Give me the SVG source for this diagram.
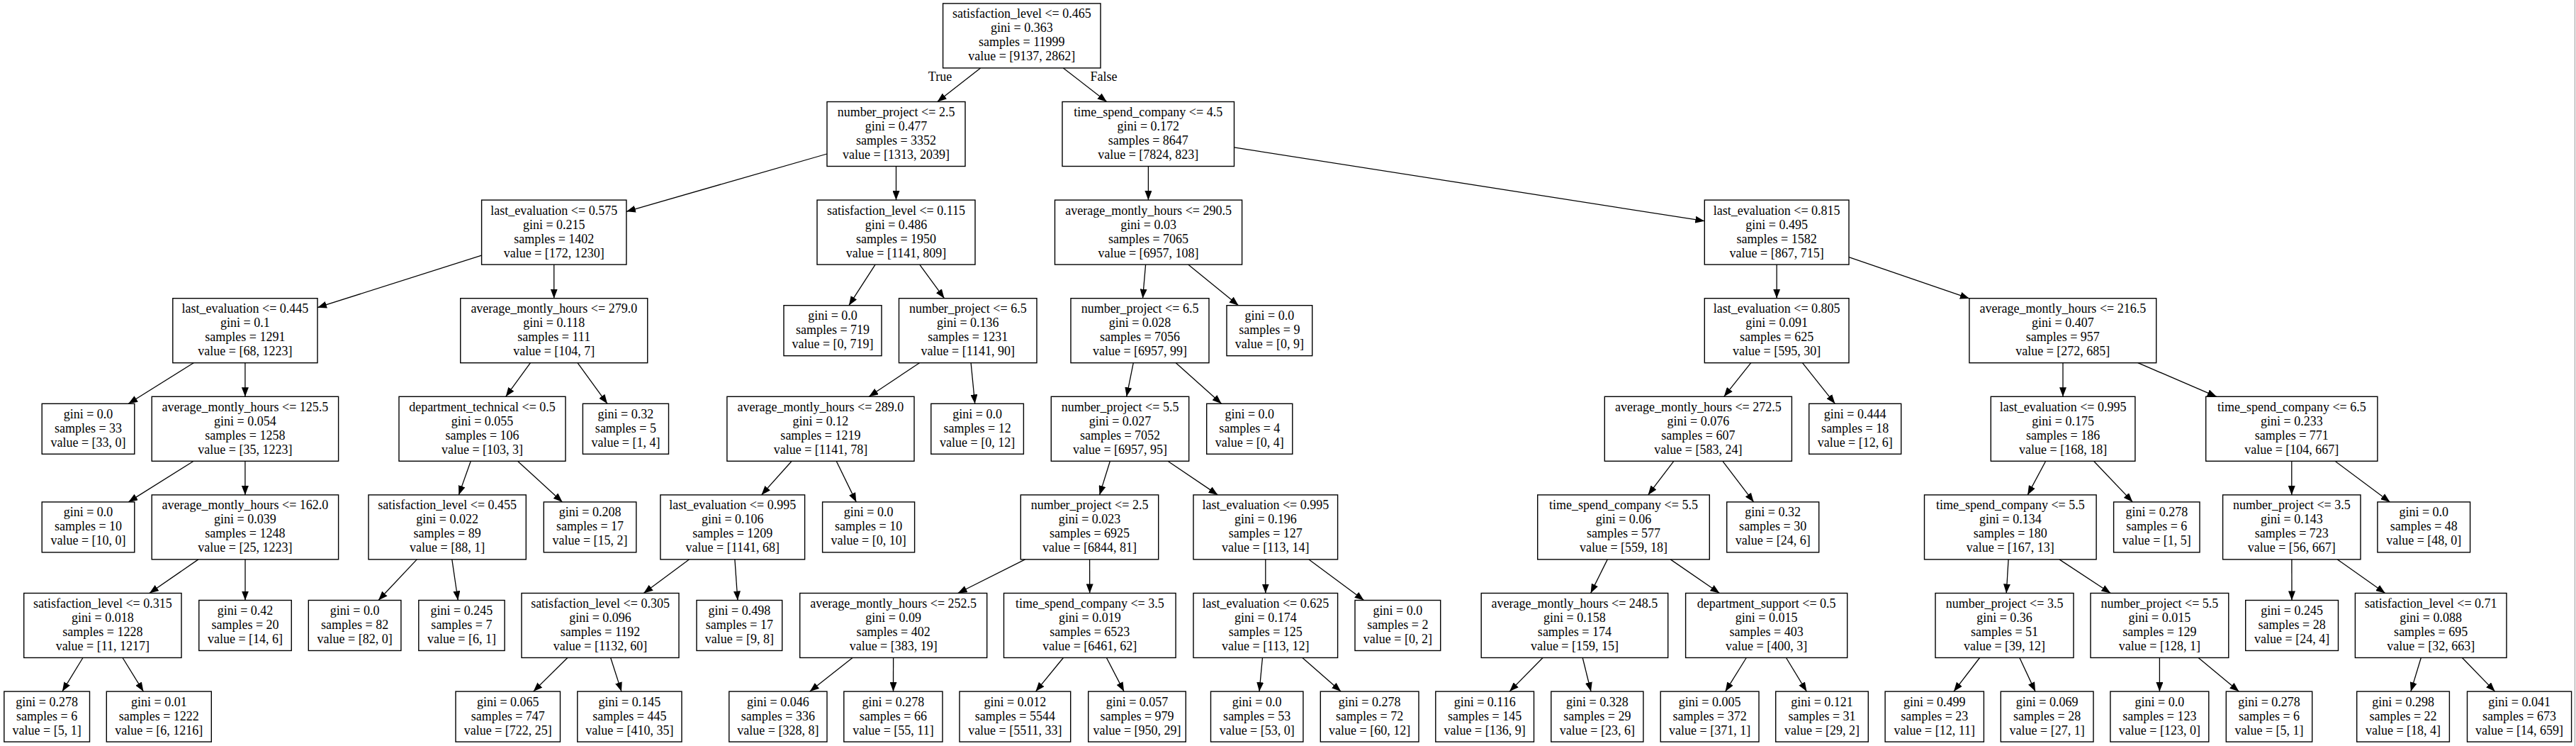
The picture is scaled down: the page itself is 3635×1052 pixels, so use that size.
<svg xmlns="http://www.w3.org/2000/svg" width="3635" height="1052" viewBox="0 0 3635 1052">
<style>
.b{fill:#fff;stroke:#000;stroke-width:1.4}
.t{font-family:"Liberation Serif","Times New Roman",serif;font-size:18px;text-anchor:middle;fill:#000}
#edges line{stroke:#000;stroke-width:1.3;marker-end:url(#a)}
</style>
<defs>
<marker id="a" markerUnits="userSpaceOnUse" markerWidth="13" markerHeight="10" refX="13" refY="5" orient="auto" viewBox="0 0 13 10"><path d="M0,0 L13,5 L0,10 z" fill="#000"/></marker>
</defs>
<rect width="3635" height="1052" fill="#fff"/>
<line x1="3633.5" y1="0" x2="3633.5" y2="1052" stroke="#999" stroke-width="1"/>
<g id="edges">
<line x1="1383.6" y1="95.9" x2="1322.7" y2="143.5"/>
<line x1="1500.4" y1="95.9" x2="1561.7" y2="143.5"/>
<line x1="1167" y1="217" x2="883.9" y2="298.3"/>
<line x1="1264.5" y1="234.5" x2="1264.5" y2="282.1"/>
<line x1="1620.4" y1="234.5" x2="1620.4" y2="282.1"/>
<line x1="1741.5" y1="207.9" x2="2405.3" y2="311.7"/>
<line x1="679.6" y1="360.1" x2="448" y2="433.7"/>
<line x1="781.75" y1="373.1" x2="781.75" y2="420.7"/>
<line x1="1235.1" y1="373.1" x2="1197.9" y2="430.7"/>
<line x1="1297.7" y1="373.1" x2="1332.5" y2="420.7"/>
<line x1="1616.6" y1="373.1" x2="1612.5" y2="420.7"/>
<line x1="1676.6" y1="373.1" x2="1747.6" y2="430.7"/>
<line x1="2507.15" y1="373.1" x2="2507.15" y2="420.7"/>
<line x1="2609" y1="362.6" x2="2778.9" y2="420.9"/>
<line x1="273.2" y1="511.7" x2="181.2" y2="569.3"/>
<line x1="345.9" y1="511.7" x2="345.9" y2="559.3"/>
<line x1="748.5" y1="511.7" x2="713.7" y2="559.3"/>
<line x1="815" y1="511.7" x2="857" y2="569.3"/>
<line x1="1297.5" y1="511.7" x2="1226.2" y2="559.3"/>
<line x1="1370.1" y1="511.7" x2="1375.7" y2="569.3"/>
<line x1="1599.3" y1="511.7" x2="1589.7" y2="559.3"/>
<line x1="1659.3" y1="511.7" x2="1723.6" y2="569.3"/>
<line x1="2470.8" y1="511.7" x2="2432.7" y2="559.3"/>
<line x1="2543.4" y1="511.7" x2="2589.4" y2="569.3"/>
<line x1="2911" y1="511.7" x2="2911" y2="559.3"/>
<line x1="3016.8" y1="511.7" x2="3127.8" y2="559.3"/>
<line x1="273.2" y1="650.3" x2="181.2" y2="707.9"/>
<line x1="345.9" y1="650.3" x2="345.9" y2="697.9"/>
<line x1="664.3" y1="650.3" x2="647.35" y2="697.9"/>
<line x1="730.4" y1="650.3" x2="793.6" y2="707.9"/>
<line x1="1117.2" y1="650.3" x2="1074.5" y2="697.9"/>
<line x1="1180.2" y1="650.3" x2="1208.3" y2="707.9"/>
<line x1="1566.4" y1="650.3" x2="1551.6" y2="697.9"/>
<line x1="1647.9" y1="650.3" x2="1718.4" y2="697.9"/>
<line x1="2361.8" y1="650.3" x2="2325.6" y2="697.9"/>
<line x1="2430.9" y1="650.3" x2="2474.7" y2="707.9"/>
<line x1="2886.7" y1="650.3" x2="2861.2" y2="697.9"/>
<line x1="2954.5" y1="650.3" x2="3009.4" y2="707.9"/>
<line x1="3233.8" y1="650.3" x2="3233.8" y2="697.9"/>
<line x1="3295" y1="650.3" x2="3372.5" y2="707.9"/>
<line x1="279.9" y1="788.9" x2="210.85" y2="836.5"/>
<line x1="346" y1="788.9" x2="346" y2="846.5"/>
<line x1="588.3" y1="788.9" x2="534" y2="846.5"/>
<line x1="637.8" y1="788.9" x2="646.25" y2="846.5"/>
<line x1="972.4" y1="788.9" x2="908.3" y2="836.5"/>
<line x1="1036.9" y1="788.9" x2="1040.9" y2="846.5"/>
<line x1="1446.6" y1="788.9" x2="1351.6" y2="836.5"/>
<line x1="1537.6" y1="788.9" x2="1537.7" y2="836.5"/>
<line x1="1785.8" y1="788.9" x2="1785.8" y2="836.5"/>
<line x1="1847" y1="788.9" x2="1924.6" y2="846.5"/>
<line x1="2268.3" y1="788.9" x2="2244.6" y2="836.5"/>
<line x1="2357.2" y1="788.9" x2="2426.45" y2="836.5"/>
<line x1="2834.1" y1="788.9" x2="2831.2" y2="836.5"/>
<line x1="2905.9" y1="788.9" x2="2978.3" y2="836.5"/>
<line x1="3233.9" y1="788.9" x2="3234" y2="846.5"/>
<line x1="3298.3" y1="788.9" x2="3365.7" y2="836.5"/>
<line x1="117" y1="927.5" x2="87.9" y2="975.1"/>
<line x1="173" y1="927.5" x2="202.4" y2="975.1"/>
<line x1="800.9" y1="927.5" x2="752.7" y2="975.1"/>
<line x1="861.65" y1="927.5" x2="876.97" y2="975.1"/>
<line x1="1203.1" y1="927.5" x2="1142.8" y2="975.1"/>
<line x1="1260.6" y1="927.5" x2="1260.5" y2="975.1"/>
<line x1="1500.5" y1="927.5" x2="1461.5" y2="975.1"/>
<line x1="1561.4" y1="927.5" x2="1586.1" y2="975.1"/>
<line x1="1781.5" y1="927.5" x2="1777" y2="975.1"/>
<line x1="1837.8" y1="927.5" x2="1892.1" y2="975.1"/>
<line x1="2177.1" y1="927.5" x2="2130.15" y2="975.1"/>
<line x1="2233.2" y1="927.5" x2="2245" y2="975.1"/>
<line x1="2464.3" y1="927.5" x2="2434.7" y2="975.1"/>
<line x1="2520.4" y1="927.5" x2="2549.4" y2="975.1"/>
<line x1="2793.6" y1="927.5" x2="2757" y2="975.1"/>
<line x1="2849.8" y1="927.5" x2="2872.05" y2="975.1"/>
<line x1="3047.4" y1="927.5" x2="3047.4" y2="975.1"/>
<line x1="3102.1" y1="927.5" x2="3159.3" y2="975.1"/>
<line x1="3416.35" y1="927.5" x2="3401.9" y2="975.1"/>
<line x1="3474.4" y1="927.5" x2="3520.6" y2="975.1"/>
<text class="t" x="1326.5" y="114">True</text>
<text class="t" x="1557.5" y="114">False</text>
</g>
<g id="n0" transform="translate(1441.8,50.4)"><rect class="b" x="-111.2" y="-45.5" width="222.4" height="91"/><text class="t"><tspan x="0" y="-25">satisfaction_level &lt;= 0.465</tspan><tspan x="0" y="-5">gini = 0.363</tspan><tspan x="0" y="15">samples = 11999</tspan><tspan x="0" y="35">value = [9137, 2862]</tspan></text></g>
<g id="n1" transform="translate(1264.5,189)"><rect class="b" x="-97.5" y="-45.5" width="195" height="91"/><text class="t"><tspan x="0" y="-25">number_project &lt;= 2.5</tspan><tspan x="0" y="-5">gini = 0.477</tspan><tspan x="0" y="15">samples = 3352</tspan><tspan x="0" y="35">value = [1313, 2039]</tspan></text></g>
<g id="n2" transform="translate(1620.25,189)"><rect class="b" x="-121.25" y="-45.5" width="242.5" height="91"/><text class="t"><tspan x="0" y="-25">time_spend_company &lt;= 4.5</tspan><tspan x="0" y="-5">gini = 0.172</tspan><tspan x="0" y="15">samples = 8647</tspan><tspan x="0" y="35">value = [7824, 823]</tspan></text></g>
<g id="n3" transform="translate(781.75,327.6)"><rect class="b" x="-102.15" y="-45.5" width="204.3" height="91"/><text class="t"><tspan x="0" y="-25">last_evaluation &lt;= 0.575</tspan><tspan x="0" y="-5">gini = 0.215</tspan><tspan x="0" y="15">samples = 1402</tspan><tspan x="0" y="35">value = [172, 1230]</tspan></text></g>
<g id="n4" transform="translate(1264.5,327.6)"><rect class="b" x="-111.5" y="-45.5" width="223" height="91"/><text class="t"><tspan x="0" y="-25">satisfaction_level &lt;= 0.115</tspan><tspan x="0" y="-5">gini = 0.486</tspan><tspan x="0" y="15">samples = 1950</tspan><tspan x="0" y="35">value = [1141, 809]</tspan></text></g>
<g id="n35" transform="translate(1620.55,327.6)"><rect class="b" x="-132.05" y="-45.5" width="264.1" height="91"/><text class="t"><tspan x="0" y="-25">average_montly_hours &lt;= 290.5</tspan><tspan x="0" y="-5">gini = 0.03</tspan><tspan x="0" y="15">samples = 7065</tspan><tspan x="0" y="35">value = [6957, 108]</tspan></text></g>
<g id="n33" transform="translate(2507.15,327.6)"><rect class="b" x="-101.85" y="-45.5" width="203.7" height="91"/><text class="t"><tspan x="0" y="-25">last_evaluation &lt;= 0.815</tspan><tspan x="0" y="-5">gini = 0.495</tspan><tspan x="0" y="15">samples = 1582</tspan><tspan x="0" y="35">value = [867, 715]</tspan></text></g>
<g id="n5" transform="translate(345.9,466.2)"><rect class="b" x="-102.1" y="-45.5" width="204.2" height="91"/><text class="t"><tspan x="0" y="-25">last_evaluation &lt;= 0.445</tspan><tspan x="0" y="-5">gini = 0.1</tspan><tspan x="0" y="15">samples = 1291</tspan><tspan x="0" y="35">value = [68, 1223]</tspan></text></g>
<g id="n6" transform="translate(781.75,466.2)"><rect class="b" x="-132" y="-45.5" width="264" height="91"/><text class="t"><tspan x="0" y="-25">average_montly_hours &lt;= 279.0</tspan><tspan x="0" y="-5">gini = 0.118</tspan><tspan x="0" y="15">samples = 111</tspan><tspan x="0" y="35">value = [104, 7]</tspan></text></g>
<g id="n36" transform="translate(1365.75,466.2)"><rect class="b" x="-97.25" y="-45.5" width="194.5" height="91"/><text class="t"><tspan x="0" y="-25">number_project &lt;= 6.5</tspan><tspan x="0" y="-5">gini = 0.136</tspan><tspan x="0" y="15">samples = 1231</tspan><tspan x="0" y="35">value = [1141, 90]</tspan></text></g>
<g id="n37" transform="translate(1608.5,466.2)"><rect class="b" x="-97.5" y="-45.5" width="195" height="91"/><text class="t"><tspan x="0" y="-25">number_project &lt;= 6.5</tspan><tspan x="0" y="-5">gini = 0.028</tspan><tspan x="0" y="15">samples = 7056</tspan><tspan x="0" y="35">value = [6957, 99]</tspan></text></g>
<g id="n34" transform="translate(2507.15,466.2)"><rect class="b" x="-101.85" y="-45.5" width="203.7" height="91"/><text class="t"><tspan x="0" y="-25">last_evaluation &lt;= 0.805</tspan><tspan x="0" y="-5">gini = 0.091</tspan><tspan x="0" y="15">samples = 625</tspan><tspan x="0" y="35">value = [595, 30]</tspan></text></g>
<g id="n32" transform="translate(2910.8,466.2)"><rect class="b" x="-131.9" y="-45.5" width="263.8" height="91"/><text class="t"><tspan x="0" y="-25">average_montly_hours &lt;= 216.5</tspan><tspan x="0" y="-5">gini = 0.407</tspan><tspan x="0" y="15">samples = 957</tspan><tspan x="0" y="35">value = [272, 685]</tspan></text></g>
<g id="n7" transform="translate(345.9,604.8)"><rect class="b" x="-131.7" y="-45.5" width="263.4" height="91"/><text class="t"><tspan x="0" y="-25">average_montly_hours &lt;= 125.5</tspan><tspan x="0" y="-5">gini = 0.054</tspan><tspan x="0" y="15">samples = 1258</tspan><tspan x="0" y="35">value = [35, 1223]</tspan></text></g>
<g id="n8" transform="translate(680.5,604.8)"><rect class="b" x="-117.5" y="-45.5" width="235" height="91"/><text class="t"><tspan x="0" y="-25">department_technical &lt;= 0.5</tspan><tspan x="0" y="-5">gini = 0.055</tspan><tspan x="0" y="15">samples = 106</tspan><tspan x="0" y="35">value = [103, 3]</tspan></text></g>
<g id="n13" transform="translate(1157.95,604.8)"><rect class="b" x="-132.05" y="-45.5" width="264.1" height="91"/><text class="t"><tspan x="0" y="-25">average_montly_hours &lt;= 289.0</tspan><tspan x="0" y="-5">gini = 0.12</tspan><tspan x="0" y="15">samples = 1219</tspan><tspan x="0" y="35">value = [1141, 78]</tspan></text></g>
<g id="n14" transform="translate(1580.5,604.8)"><rect class="b" x="-97.2" y="-45.5" width="194.4" height="91"/><text class="t"><tspan x="0" y="-25">number_project &lt;= 5.5</tspan><tspan x="0" y="-5">gini = 0.027</tspan><tspan x="0" y="15">samples = 7052</tspan><tspan x="0" y="35">value = [6957, 95]</tspan></text></g>
<g id="n21" transform="translate(2396.35,604.8)"><rect class="b" x="-132.05" y="-45.5" width="264.1" height="91"/><text class="t"><tspan x="0" y="-25">average_montly_hours &lt;= 272.5</tspan><tspan x="0" y="-5">gini = 0.076</tspan><tspan x="0" y="15">samples = 607</tspan><tspan x="0" y="35">value = [583, 24]</tspan></text></g>
<g id="n25" transform="translate(2911.1,604.8)"><rect class="b" x="-101.8" y="-45.5" width="203.6" height="91"/><text class="t"><tspan x="0" y="-25">last_evaluation &lt;= 0.995</tspan><tspan x="0" y="-5">gini = 0.175</tspan><tspan x="0" y="15">samples = 186</tspan><tspan x="0" y="35">value = [168, 18]</tspan></text></g>
<g id="n26" transform="translate(3233.8,604.8)"><rect class="b" x="-121.1" y="-45.5" width="242.2" height="91"/><text class="t"><tspan x="0" y="-25">time_spend_company &lt;= 6.5</tspan><tspan x="0" y="-5">gini = 0.233</tspan><tspan x="0" y="15">samples = 771</tspan><tspan x="0" y="35">value = [104, 667]</tspan></text></g>
<g id="n9" transform="translate(345.9,743.4)"><rect class="b" x="-131.7" y="-45.5" width="263.4" height="91"/><text class="t"><tspan x="0" y="-25">average_montly_hours &lt;= 162.0</tspan><tspan x="0" y="-5">gini = 0.039</tspan><tspan x="0" y="15">samples = 1248</tspan><tspan x="0" y="35">value = [25, 1223]</tspan></text></g>
<g id="n10" transform="translate(631.15,743.4)"><rect class="b" x="-111.15" y="-45.5" width="222.3" height="91"/><text class="t"><tspan x="0" y="-25">satisfaction_level &lt;= 0.455</tspan><tspan x="0" y="-5">gini = 0.022</tspan><tspan x="0" y="15">samples = 89</tspan><tspan x="0" y="35">value = [88, 1]</tspan></text></g>
<g id="n15" transform="translate(1033.75,743.4)"><rect class="b" x="-101.85" y="-45.5" width="203.7" height="91"/><text class="t"><tspan x="0" y="-25">last_evaluation &lt;= 0.995</tspan><tspan x="0" y="-5">gini = 0.106</tspan><tspan x="0" y="15">samples = 1209</tspan><tspan x="0" y="35">value = [1141, 68]</tspan></text></g>
<g id="n16" transform="translate(1537.5,743.4)"><rect class="b" x="-97.2" y="-45.5" width="194.4" height="91"/><text class="t"><tspan x="0" y="-25">number_project &lt;= 2.5</tspan><tspan x="0" y="-5">gini = 0.023</tspan><tspan x="0" y="15">samples = 6925</tspan><tspan x="0" y="35">value = [6844, 81]</tspan></text></g>
<g id="n17" transform="translate(1785.8,743.4)"><rect class="b" x="-101.8" y="-45.5" width="203.6" height="91"/><text class="t"><tspan x="0" y="-25">last_evaluation &lt;= 0.995</tspan><tspan x="0" y="-5">gini = 0.196</tspan><tspan x="0" y="15">samples = 127</tspan><tspan x="0" y="35">value = [113, 14]</tspan></text></g>
<g id="n22" transform="translate(2291,743.4)"><rect class="b" x="-121.3" y="-45.5" width="242.6" height="91"/><text class="t"><tspan x="0" y="-25">time_spend_company &lt;= 5.5</tspan><tspan x="0" y="-5">gini = 0.06</tspan><tspan x="0" y="15">samples = 577</tspan><tspan x="0" y="35">value = [559, 18]</tspan></text></g>
<g id="n27" transform="translate(2836.8,743.4)"><rect class="b" x="-121.3" y="-45.5" width="242.6" height="91"/><text class="t"><tspan x="0" y="-25">time_spend_company &lt;= 5.5</tspan><tspan x="0" y="-5">gini = 0.134</tspan><tspan x="0" y="15">samples = 180</tspan><tspan x="0" y="35">value = [167, 13]</tspan></text></g>
<g id="n28" transform="translate(3233.8,743.4)"><rect class="b" x="-97.2" y="-45.5" width="194.4" height="91"/><text class="t"><tspan x="0" y="-25">number_project &lt;= 3.5</tspan><tspan x="0" y="-5">gini = 0.143</tspan><tspan x="0" y="15">samples = 723</tspan><tspan x="0" y="35">value = [56, 667]</tspan></text></g>
<g id="n11" transform="translate(144.85,882)"><rect class="b" x="-111.15" y="-45.5" width="222.3" height="91"/><text class="t"><tspan x="0" y="-25">satisfaction_level &lt;= 0.315</tspan><tspan x="0" y="-5">gini = 0.018</tspan><tspan x="0" y="15">samples = 1228</tspan><tspan x="0" y="35">value = [11, 1217]</tspan></text></g>
<g id="n12" transform="translate(847,882)"><rect class="b" x="-111" y="-45.5" width="222" height="91"/><text class="t"><tspan x="0" y="-25">satisfaction_level &lt;= 0.305</tspan><tspan x="0" y="-5">gini = 0.096</tspan><tspan x="0" y="15">samples = 1192</tspan><tspan x="0" y="35">value = [1132, 60]</tspan></text></g>
<g id="n18" transform="translate(1260.7,882)"><rect class="b" x="-132" y="-45.5" width="264" height="91"/><text class="t"><tspan x="0" y="-25">average_montly_hours &lt;= 252.5</tspan><tspan x="0" y="-5">gini = 0.09</tspan><tspan x="0" y="15">samples = 402</tspan><tspan x="0" y="35">value = [383, 19]</tspan></text></g>
<g id="n19" transform="translate(1537.8,882)"><rect class="b" x="-121.3" y="-45.5" width="242.6" height="91"/><text class="t"><tspan x="0" y="-25">time_spend_company &lt;= 3.5</tspan><tspan x="0" y="-5">gini = 0.019</tspan><tspan x="0" y="15">samples = 6523</tspan><tspan x="0" y="35">value = [6461, 62]</tspan></text></g>
<g id="n20" transform="translate(1785.8,882)"><rect class="b" x="-101.8" y="-45.5" width="203.6" height="91"/><text class="t"><tspan x="0" y="-25">last_evaluation &lt;= 0.625</tspan><tspan x="0" y="-5">gini = 0.174</tspan><tspan x="0" y="15">samples = 125</tspan><tspan x="0" y="35">value = [113, 12]</tspan></text></g>
<g id="n23" transform="translate(2221.95,882)"><rect class="b" x="-131.75" y="-45.5" width="263.5" height="91"/><text class="t"><tspan x="0" y="-25">average_montly_hours &lt;= 248.5</tspan><tspan x="0" y="-5">gini = 0.158</tspan><tspan x="0" y="15">samples = 174</tspan><tspan x="0" y="35">value = [159, 15]</tspan></text></g>
<g id="n24" transform="translate(2492.65,882)"><rect class="b" x="-114.05" y="-45.5" width="228.1" height="91"/><text class="t"><tspan x="0" y="-25">department_support &lt;= 0.5</tspan><tspan x="0" y="-5">gini = 0.015</tspan><tspan x="0" y="15">samples = 403</tspan><tspan x="0" y="35">value = [400, 3]</tspan></text></g>
<g id="n29" transform="translate(2828.5,882)"><rect class="b" x="-97.5" y="-45.5" width="195" height="91"/><text class="t"><tspan x="0" y="-25">number_project &lt;= 3.5</tspan><tspan x="0" y="-5">gini = 0.36</tspan><tspan x="0" y="15">samples = 51</tspan><tspan x="0" y="35">value = [39, 12]</tspan></text></g>
<g id="n30" transform="translate(3047.4,882)"><rect class="b" x="-97.4" y="-45.5" width="194.8" height="91"/><text class="t"><tspan x="0" y="-25">number_project &lt;= 5.5</tspan><tspan x="0" y="-5">gini = 0.015</tspan><tspan x="0" y="15">samples = 129</tspan><tspan x="0" y="35">value = [128, 1]</tspan></text></g>
<g id="n31" transform="translate(3430.2,882)"><rect class="b" x="-106.8" y="-45.5" width="213.6" height="91"/><text class="t"><tspan x="0" y="-25">satisfaction_level &lt;= 0.71</tspan><tspan x="0" y="-5">gini = 0.088</tspan><tspan x="0" y="15">samples = 695</tspan><tspan x="0" y="35">value = [32, 663]</tspan></text></g>
<g id="lJ" transform="translate(1175,466.2)"><rect class="b" x="-69" y="-35.5" width="138" height="71"/><text class="t"><tspan x="0" y="-15">gini = 0.0</tspan><tspan x="0" y="5">samples = 719</tspan><tspan x="0" y="25">value = [0, 719]</tspan></text></g>
<g id="lX" transform="translate(1791.35,466.2)"><rect class="b" x="-60.35" y="-35.5" width="120.7" height="71"/><text class="t"><tspan x="0" y="-15">gini = 0.0</tspan><tspan x="0" y="5">samples = 9</tspan><tspan x="0" y="25">value = [0, 9]</tspan></text></g>
<g id="lA" transform="translate(124.5,604.8)"><rect class="b" x="-65.3" y="-35.5" width="130.6" height="71"/><text class="t"><tspan x="0" y="-15">gini = 0.0</tspan><tspan x="0" y="5">samples = 33</tspan><tspan x="0" y="25">value = [33, 0]</tspan></text></g>
<g id="lI" transform="translate(882.95,604.8)"><rect class="b" x="-60.55" y="-35.5" width="121.1" height="71"/><text class="t"><tspan x="0" y="-15">gini = 0.32</tspan><tspan x="0" y="5">samples = 5</tspan><tspan x="0" y="25">value = [1, 4]</tspan></text></g>
<g id="lO" transform="translate(1379.1,604.8)"><rect class="b" x="-65.3" y="-35.5" width="130.6" height="71"/><text class="t"><tspan x="0" y="-15">gini = 0.0</tspan><tspan x="0" y="5">samples = 12</tspan><tspan x="0" y="25">value = [0, 12]</tspan></text></g>
<g id="lW" transform="translate(1763.25,604.8)"><rect class="b" x="-60.55" y="-35.5" width="121.1" height="71"/><text class="t"><tspan x="0" y="-15">gini = 0.0</tspan><tspan x="0" y="5">samples = 4</tspan><tspan x="0" y="25">value = [0, 4]</tspan></text></g>
<g id="lAD" transform="translate(2617.7,604.8)"><rect class="b" x="-65" y="-35.5" width="130" height="71"/><text class="t"><tspan x="0" y="-15">gini = 0.444</tspan><tspan x="0" y="5">samples = 18</tspan><tspan x="0" y="25">value = [12, 6]</tspan></text></g>
<g id="lB" transform="translate(124.5,743.4)"><rect class="b" x="-65.3" y="-35.5" width="130.6" height="71"/><text class="t"><tspan x="0" y="-15">gini = 0.0</tspan><tspan x="0" y="5">samples = 10</tspan><tspan x="0" y="25">value = [10, 0]</tspan></text></g>
<g id="lH" transform="translate(832.55,743.4)"><rect class="b" x="-65.25" y="-35.5" width="130.5" height="71"/><text class="t"><tspan x="0" y="-15">gini = 0.208</tspan><tspan x="0" y="5">samples = 17</tspan><tspan x="0" y="25">value = [15, 2]</tspan></text></g>
<g id="lN" transform="translate(1225.6,743.4)"><rect class="b" x="-65" y="-35.5" width="130" height="71"/><text class="t"><tspan x="0" y="-15">gini = 0.0</tspan><tspan x="0" y="5">samples = 10</tspan><tspan x="0" y="25">value = [0, 10]</tspan></text></g>
<g id="lAC" transform="translate(2501.7,743.4)"><rect class="b" x="-65" y="-35.5" width="130" height="71"/><text class="t"><tspan x="0" y="-15">gini = 0.32</tspan><tspan x="0" y="5">samples = 30</tspan><tspan x="0" y="25">value = [24, 6]</tspan></text></g>
<g id="lAI" transform="translate(3043.3,743.4)"><rect class="b" x="-60.7" y="-35.5" width="121.4" height="71"/><text class="t"><tspan x="0" y="-15">gini = 0.278</tspan><tspan x="0" y="5">samples = 6</tspan><tspan x="0" y="25">value = [1, 5]</tspan></text></g>
<g id="lAM" transform="translate(3420.25,743.4)"><rect class="b" x="-65.35" y="-35.5" width="130.7" height="71"/><text class="t"><tspan x="0" y="-15">gini = 0.0</tspan><tspan x="0" y="5">samples = 48</tspan><tspan x="0" y="25">value = [48, 0]</tspan></text></g>
<g id="lE" transform="translate(346,882)"><rect class="b" x="-65.25" y="-35.5" width="130.5" height="71"/><text class="t"><tspan x="0" y="-15">gini = 0.42</tspan><tspan x="0" y="5">samples = 20</tspan><tspan x="0" y="25">value = [14, 6]</tspan></text></g>
<g id="lF" transform="translate(500.6,882)"><rect class="b" x="-65.3" y="-35.5" width="130.6" height="71"/><text class="t"><tspan x="0" y="-15">gini = 0.0</tspan><tspan x="0" y="5">samples = 82</tspan><tspan x="0" y="25">value = [82, 0]</tspan></text></g>
<g id="lG" transform="translate(651.45,882)"><rect class="b" x="-60.65" y="-35.5" width="121.3" height="71"/><text class="t"><tspan x="0" y="-15">gini = 0.245</tspan><tspan x="0" y="5">samples = 7</tspan><tspan x="0" y="25">value = [6, 1]</tspan></text></g>
<g id="lM" transform="translate(1043.35,882)"><rect class="b" x="-60.35" y="-35.5" width="120.7" height="71"/><text class="t"><tspan x="0" y="-15">gini = 0.498</tspan><tspan x="0" y="5">samples = 17</tspan><tspan x="0" y="25">value = [9, 8]</tspan></text></g>
<g id="lV" transform="translate(1972.35,882)"><rect class="b" x="-60.35" y="-35.5" width="120.7" height="71"/><text class="t"><tspan x="0" y="-15">gini = 0.0</tspan><tspan x="0" y="5">samples = 2</tspan><tspan x="0" y="25">value = [0, 2]</tspan></text></g>
<g id="lAJ" transform="translate(3234.1,882)"><rect class="b" x="-65.4" y="-35.5" width="130.8" height="71"/><text class="t"><tspan x="0" y="-15">gini = 0.245</tspan><tspan x="0" y="5">samples = 28</tspan><tspan x="0" y="25">value = [24, 4]</tspan></text></g>
<g id="lC" transform="translate(66.15,1010.6)"><rect class="b" x="-60.35" y="-35.5" width="120.7" height="71"/><text class="t"><tspan x="0" y="-15">gini = 0.278</tspan><tspan x="0" y="5">samples = 6</tspan><tspan x="0" y="25">value = [5, 1]</tspan></text></g>
<g id="lD" transform="translate(224.3,1010.6)"><rect class="b" x="-74" y="-35.5" width="148" height="71"/><text class="t"><tspan x="0" y="-15">gini = 0.01</tspan><tspan x="0" y="5">samples = 1222</tspan><tspan x="0" y="25">value = [6, 1216]</tspan></text></g>
<g id="lK" transform="translate(716.75,1010.6)"><rect class="b" x="-73.75" y="-35.5" width="147.5" height="71"/><text class="t"><tspan x="0" y="-15">gini = 0.065</tspan><tspan x="0" y="5">samples = 747</tspan><tspan x="0" y="25">value = [722, 25]</tspan></text></g>
<g id="lL" transform="translate(888.4,1010.6)"><rect class="b" x="-73.6" y="-35.5" width="147.2" height="71"/><text class="t"><tspan x="0" y="-15">gini = 0.145</tspan><tspan x="0" y="5">samples = 445</tspan><tspan x="0" y="25">value = [410, 35]</tspan></text></g>
<g id="lP" transform="translate(1097.9,1010.6)"><rect class="b" x="-69.1" y="-35.5" width="138.2" height="71"/><text class="t"><tspan x="0" y="-15">gini = 0.046</tspan><tspan x="0" y="5">samples = 336</tspan><tspan x="0" y="25">value = [328, 8]</tspan></text></g>
<g id="lQ" transform="translate(1260.4,1010.6)"><rect class="b" x="-69.6" y="-35.5" width="139.2" height="71"/><text class="t"><tspan x="0" y="-15">gini = 0.278</tspan><tspan x="0" y="5">samples = 66</tspan><tspan x="0" y="25">value = [55, 11]</tspan></text></g>
<g id="lR" transform="translate(1432.35,1010.6)"><rect class="b" x="-78.35" y="-35.5" width="156.7" height="71"/><text class="t"><tspan x="0" y="-15">gini = 0.012</tspan><tspan x="0" y="5">samples = 5544</tspan><tspan x="0" y="25">value = [5511, 33]</tspan></text></g>
<g id="lS" transform="translate(1604.5,1010.6)"><rect class="b" x="-68.8" y="-35.5" width="137.6" height="71"/><text class="t"><tspan x="0" y="-15">gini = 0.057</tspan><tspan x="0" y="5">samples = 979</tspan><tspan x="0" y="25">value = [950, 29]</tspan></text></g>
<g id="lT" transform="translate(1773.7,1010.6)"><rect class="b" x="-65.2" y="-35.5" width="130.4" height="71"/><text class="t"><tspan x="0" y="-15">gini = 0.0</tspan><tspan x="0" y="5">samples = 53</tspan><tspan x="0" y="25">value = [53, 0]</tspan></text></g>
<g id="lU" transform="translate(1932.65,1010.6)"><rect class="b" x="-69.35" y="-35.5" width="138.7" height="71"/><text class="t"><tspan x="0" y="-15">gini = 0.278</tspan><tspan x="0" y="5">samples = 72</tspan><tspan x="0" y="25">value = [60, 12]</tspan></text></g>
<g id="lY" transform="translate(2095.15,1010.6)"><rect class="b" x="-69.35" y="-35.5" width="138.7" height="71"/><text class="t"><tspan x="0" y="-15">gini = 0.116</tspan><tspan x="0" y="5">samples = 145</tspan><tspan x="0" y="25">value = [136, 9]</tspan></text></g>
<g id="lZ" transform="translate(2253.85,1010.6)"><rect class="b" x="-65.05" y="-35.5" width="130.1" height="71"/><text class="t"><tspan x="0" y="-15">gini = 0.328</tspan><tspan x="0" y="5">samples = 29</tspan><tspan x="0" y="25">value = [23, 6]</tspan></text></g>
<g id="lAA" transform="translate(2412.6,1010.6)"><rect class="b" x="-69.4" y="-35.5" width="138.8" height="71"/><text class="t"><tspan x="0" y="-15">gini = 0.005</tspan><tspan x="0" y="5">samples = 372</tspan><tspan x="0" y="25">value = [371, 1]</tspan></text></g>
<g id="lAB" transform="translate(2571,1010.6)"><rect class="b" x="-65.3" y="-35.5" width="130.6" height="71"/><text class="t"><tspan x="0" y="-15">gini = 0.121</tspan><tspan x="0" y="5">samples = 31</tspan><tspan x="0" y="25">value = [29, 2]</tspan></text></g>
<g id="lAE" transform="translate(2729.75,1010.6)"><rect class="b" x="-69.65" y="-35.5" width="139.3" height="71"/><text class="t"><tspan x="0" y="-15">gini = 0.499</tspan><tspan x="0" y="5">samples = 23</tspan><tspan x="0" y="25">value = [12, 11]</tspan></text></g>
<g id="lAF" transform="translate(2888.65,1010.6)"><rect class="b" x="-65.35" y="-35.5" width="130.7" height="71"/><text class="t"><tspan x="0" y="-15">gini = 0.069</tspan><tspan x="0" y="5">samples = 28</tspan><tspan x="0" y="25">value = [27, 1]</tspan></text></g>
<g id="lAG" transform="translate(3047.35,1010.6)"><rect class="b" x="-69.45" y="-35.5" width="138.9" height="71"/><text class="t"><tspan x="0" y="-15">gini = 0.0</tspan><tspan x="0" y="5">samples = 123</tspan><tspan x="0" y="25">value = [123, 0]</tspan></text></g>
<g id="lAH" transform="translate(3202,1010.6)"><rect class="b" x="-60.7" y="-35.5" width="121.4" height="71"/><text class="t"><tspan x="0" y="-15">gini = 0.278</tspan><tspan x="0" y="5">samples = 6</tspan><tspan x="0" y="25">value = [5, 1]</tspan></text></g>
<g id="lAK" transform="translate(3391.05,1010.6)"><rect class="b" x="-65.35" y="-35.5" width="130.7" height="71"/><text class="t"><tspan x="0" y="-15">gini = 0.298</tspan><tspan x="0" y="5">samples = 22</tspan><tspan x="0" y="25">value = [18, 4]</tspan></text></g>
<g id="lAL" transform="translate(3555.05,1010.6)"><rect class="b" x="-73.55" y="-35.5" width="147.1" height="71"/><text class="t"><tspan x="0" y="-15">gini = 0.041</tspan><tspan x="0" y="5">samples = 673</tspan><tspan x="0" y="25">value = [14, 659]</tspan></text></g>
</svg>
